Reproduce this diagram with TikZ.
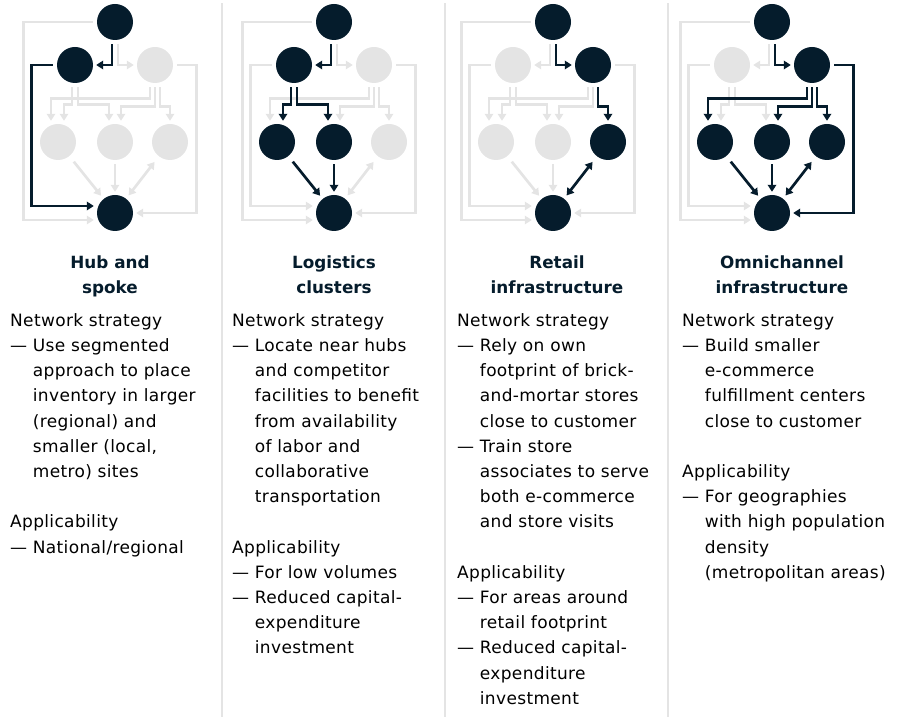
\documentclass[tikz,border=0pt]{standalone}
\usepackage{fontspec}
\setmainfont{DejaVu Sans}[LetterSpace=2, BoldFeatures={LetterSpace=0}]
\usepackage{tikz}
\usetikzlibrary{arrows.meta}

\definecolor{navy}{HTML}{051C2C}
\definecolor{mist}{HTML}{E4E4E4}

\newcommand{\ind}{\phantom{— }}

% the seven sites of one network
\newcommand{\sites}[1]{
  \node[src] (#1-top) at (0,22) {};
  \node[hubw] (#1-w) at (-40,65) {};
  \node[hube] (#1-e) at (40,65) {};
  \node[site1] (#1-s1) at (-57,142) {};
  \node[site2] (#1-s2) at (0,142) {};
  \node[site3] (#1-s3) at (55,142) {};
  \node[cust] (#1-cust) at (0,213) {};
}

% all flows between them
\newcommand{\links}[1]{
  \draw[link, src-hubw] ([xshift=-3pt]#1-top.south) |- (#1-w);
  \draw[link, src-hube] ([xshift=3pt]#1-top.south) |- (#1-e);
  \draw[link, src-cust] (#1-top.west) -- ++(-73,0) |- ([yshift=-7pt]#1-cust.west);
  \draw[link, hubw-cust] (#1-w.west) -- ++(-25,0) |- ([yshift=7pt]#1-cust.west);
  \draw[link, hube-cust] (#1-e.east) -- ++(23,0) |- (#1-cust);
  \draw[link, hube-site1] ([xshift=-5pt]#1-e.south) -- ++(0,15) -| ([xshift=-7pt]#1-s1.north);
  \draw[link, hubw-site1] ([xshift=-3pt]#1-w.south) -- ++(0,21) -| ([xshift=6pt]#1-s1.north);
  \draw[link, hubw-site2] ([xshift=3pt]#1-w.south) -- ++(0,21) -| ([xshift=-6pt]#1-s2.north);
  \draw[link, hube-site2] (#1-e.south) -- ++(0,23) -| ([xshift=6pt]#1-s2.north);
  \draw[link, hube-site3] ([xshift=5pt]#1-e.south) -- ++(0,23) -| (#1-s3.north);
  \draw[link, slant, site1-cust] (#1-s1) -- (#1-cust);
  \draw[link, site2-cust] (#1-s2) -- (#1-cust);
  \draw[link, slant, site3-cust, <->] (#1-s3) -- (#1-cust);
}

% pale flows first, dark ones on top
\newcommand{\network}[1]{
  \sites{#1}
  \begin{scope}[dark/.style={draw=none}] \links{#1} \end{scope}
  \begin{scope}[pale/.style={draw=none}] \links{#1} \end{scope}
}

\begin{document}
\begin{tikzpicture}[x=1pt, y=-1pt, >={Triangle[length=7pt, width=8.5pt]},
  lit/.style={circle, fill=navy, minimum size=36pt, inner sep=0pt},
  dim/.style={lit, fill=mist},
  dark/.style={draw=navy}, pale/.style={draw=mist},
  link/.style={->, line width=2.7pt, shorten <=4pt, shorten >=3pt},
  slant/.style={shorten <=7pt, shorten >=4pt},
  src/.style=dim, hubw/.style=dim, hube/.style=dim,
  site1/.style=dim, site2/.style=dim, site3/.style=dim, cust/.style=dim,
  src-hubw/.style=pale, src-hube/.style=pale, src-cust/.style=pale,
  hubw-cust/.style=pale, hube-cust/.style=pale,
  hubw-site1/.style=pale, hubw-site2/.style=pale,
  hube-site1/.style=pale, hube-site2/.style=pale, hube-site3/.style=pale,
  site1-cust/.style=pale, site2-cust/.style=pale, site3-cust/.style=pale,
  head/.style={anchor=north, inner sep=0pt, align=center, text=navy,
    font=\fontsize{16.8}{24.8}\selectfont\bfseries},
  body/.style={anchor=north west, inner sep=0pt, align=left,
    font=\fontsize{17}{25.2}\selectfont},
  rule/.style={draw=mist, line width=2pt}]
  \useasboundingbox (0,0) rectangle (898,719);

  \draw[rule] (222,3) -- (222,717);
  \draw[rule] (445,3) -- (445,717);
  \draw[rule] (668,3) -- (668,717);

  \begin{scope}[xshift=115pt, src/.style=lit, hubw/.style=lit, cust/.style=lit,
      src-hubw/.style=dark, hubw-cust/.style=dark]
    \network{hs}
  \end{scope}

  \begin{scope}[xshift=334pt, src/.style=lit, hubw/.style=lit, site1/.style=lit,
      site2/.style=lit, cust/.style=lit, src-hubw/.style=dark,
      hubw-site1/.style=dark, hubw-site2/.style=dark,
      site1-cust/.style=dark, site2-cust/.style=dark]
    \network{lc}
  \end{scope}

  \begin{scope}[xshift=553pt, src/.style=lit, hube/.style=lit, site3/.style=lit,
      cust/.style=lit, src-hube/.style=dark, hube-site3/.style=dark,
      site3-cust/.style=dark]
    \network{ri}
  \end{scope}

  \begin{scope}[xshift=772pt, src/.style=lit, hube/.style=lit, site1/.style=lit,
      site2/.style=lit, site3/.style=lit, cust/.style=lit,
      src-hube/.style=dark, hube-cust/.style=dark, hube-site1/.style=dark,
      hube-site2/.style=dark, hube-site3/.style=dark, site1-cust/.style=dark,
      site2-cust/.style=dark, site3-cust/.style=dark]
    \network{oi}
  \end{scope}

  \node[head] (hs-title) at (110,251) {\strut Hub and\\spoke};
  \node[head] (lc-title) at (334,251) {\strut Logistics\\clusters};
  \node[head] (ri-title) at (557,251) {\strut Retail\\infrastructure};
  \node[head] (oi-title) at (782,251) {\strut Omnichannel\\infrastructure};

  \node[body] (hs-text) at (10,308.5) {\strut Network strategy\\
    — Use segmented\\ \ind approach to place\\ \ind inventory in larger\\
    \ind (regional) and\\ \ind smaller (local,\\ \ind metro) sites\\[25.2pt]
    Applicability\\ — National/regional};

  \node[body] (lc-text) at (232,308.5) {\strut Network strategy\\
    — Locate near hubs\\ \ind and competitor\\ \ind facilities to benefit\\
    \ind from availability\\ \ind of labor and\\ \ind collaborative\\
    \ind transportation\\[25.2pt]
    Applicability\\ — For low volumes\\ — Reduced capital-\\
    \ind expenditure\\ \ind investment};

  \node[body] (ri-text) at (457,308.5) {\strut Network strategy\\
    — Rely on own\\ \ind footprint of brick-\\ \ind and-mortar stores\\
    \ind close to customer\\ — Train store\\ \ind associates to serve\\
    \ind both e-commerce\\ \ind and store visits\\[25.2pt]
    Applicability\\ — For areas around\\ \ind retail footprint\\
    — Reduced capital-\\ \ind expenditure\\ \ind investment};

  \node[body] (oi-text) at (682,308.5) {\strut Network strategy\\
    — Build smaller\\ \ind e-commerce\\ \ind fulfillment centers\\
    \ind close to customer\\[25.2pt]
    Applicability\\ — For geographies\\ \ind with high population\\
    \ind density\\ \ind (metropolitan areas)};
\end{tikzpicture}
\end{document}
